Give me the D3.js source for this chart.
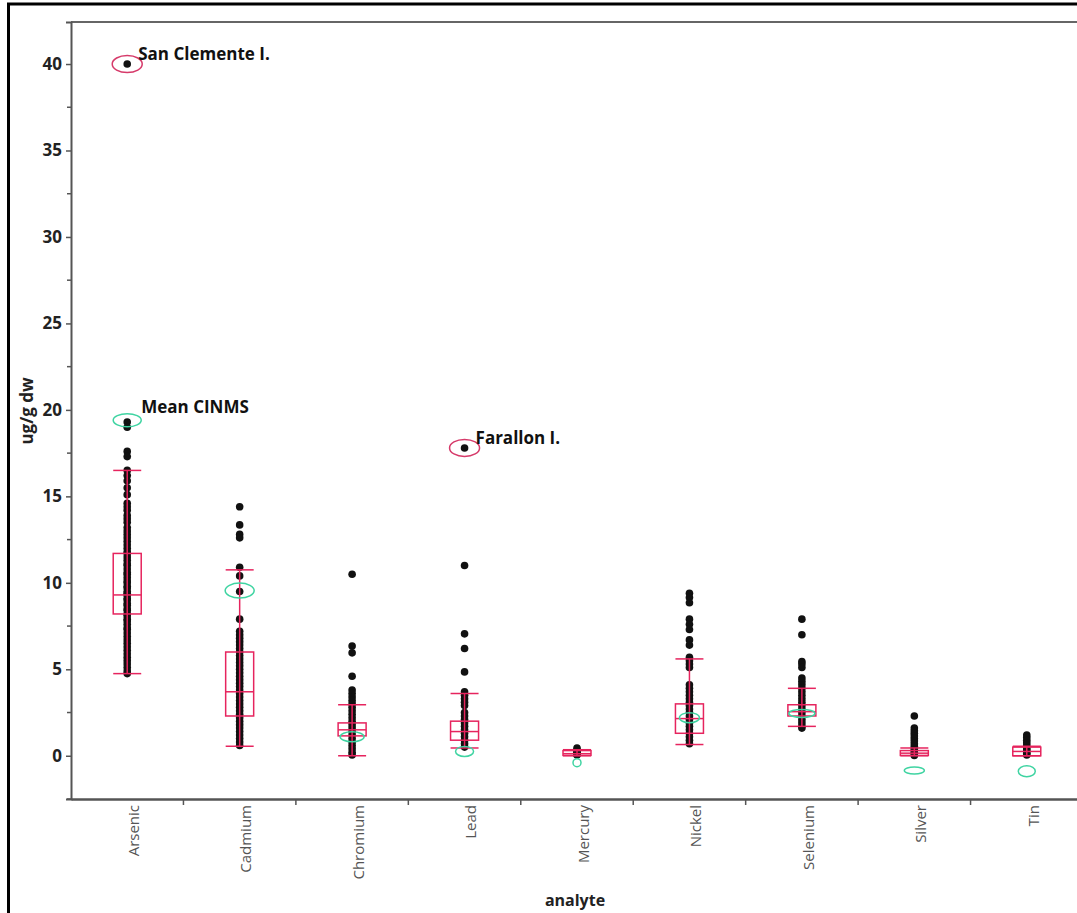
<!DOCTYPE html>
<html>
<head>
<meta charset="utf-8">
<script src="https://cdn.jsdelivr.net/npm/d3@7"></script>
<style>
  html, body { margin: 0; padding: 0; background: #fff; }
  svg { display: block; }
</style>
</head>
<body>
<svg id="chart" width="1077" height="913"></svg>
<script>
// ---------------- data ----------------
const categories = ["Arsenic", "Cadmium", "Chromium", "Lead", "Mercury", "Nickel", "Selenium", "Silver", "Tin"];

const whiskerLow  = [4.75, 0.55, 0.0, 0.45, 0.0, 0.65, 1.7, 0.0, 0.0];
const boxQ1       = [8.2, 2.3, 1.15, 0.9, 0.02, 1.3, 2.3, 0.02, 0.0];
const boxMedian   = [9.3, 3.7, 1.5, 1.4, 0.12, 2.15, 2.55, 0.15, 0.25];
const boxQ3       = [11.7, 6.0, 1.9, 2.0, 0.3, 3.0, 2.95, 0.3, 0.5];
const whiskerHigh = [16.5, 10.75, 2.95, 3.6, 0.35, 5.6, 3.9, 0.45, 0.55];
const meanCINMS   = [19.4, 9.55, 1.1, 0.25, -0.4, 2.2, 2.45, -0.85, -0.9];

const arsenicValues = [40.0, 19.3, 19.0, 17.6, 17.3, 16.5, 16.2, 15.9, 15.5, 15.1, 14.6, 14.4, 14.2, 13.9, 13.7, 13.5, 13.2, 13.0, 12.8, 12.6, 12.4, 12.2, 12.0, 11.8, 11.7, 11.5, 11.3, 11.1, 11.0, 10.8, 10.6, 10.5, 10.3, 10.1, 10.0, 9.8, 9.7, 9.5, 9.4, 9.3, 9.1, 9.0, 8.8, 8.7, 8.5, 8.4, 8.2, 8.1, 7.9, 7.8, 7.6, 7.4, 7.3, 7.1, 6.9, 6.7, 6.5, 6.3, 6.1, 5.9, 5.7, 5.5, 5.3, 5.1, 4.9, 4.75];
const cadmiumValues = [14.4, 13.35, 12.8, 12.6, 10.9, 10.4, 9.5, 7.9, 7.2, 7.0, 6.8, 6.6, 6.4, 6.2, 6.0, 5.8, 5.6, 5.4, 5.2, 5.0, 4.8, 4.6, 4.4, 4.2, 4.0, 3.8, 3.6, 3.4, 3.2, 3.0, 2.8, 2.6, 2.4, 2.2, 2.0, 1.8, 1.6, 1.4, 1.2, 1.0, 0.8, 0.6];
const chromiumValues = [10.5, 6.35, 5.95, 4.6, 3.8, 3.6, 3.4, 3.2, 3.0, 2.8, 2.6, 2.4, 2.2, 2.0, 1.8, 1.6, 1.4, 1.2, 1.0, 0.8, 0.6, 0.4, 0.2, 0.05];
const leadValues = [17.8, 11.0, 7.05, 6.2, 4.85, 3.7, 3.5, 3.3, 3.1, 2.9, 2.5, 2.3, 2.1, 1.9, 1.7, 1.5, 1.3, 1.1, 0.9, 0.7, 0.5];
const mercuryValues = [0.45, 0.35, 0.25, 0.18, 0.12, 0.08, 0.05];
const nickelValues = [9.4, 9.15, 8.85, 7.9, 7.6, 7.3, 6.7, 6.4, 5.7, 5.5, 5.3, 5.1, 4.1, 3.9, 3.7, 3.5, 3.3, 3.1, 2.9, 2.7, 2.5, 2.3, 2.1, 1.9, 1.7, 1.5, 1.3, 1.1, 0.9, 0.7];
const seleniumValues = [7.9, 7.0, 5.45, 5.3, 5.1, 4.5, 4.3, 4.1, 3.9, 3.7, 3.5, 3.3, 3.1, 2.9, 2.7, 2.5, 2.3, 2.1, 1.9, 1.7, 1.6];
const silverValues = [2.3, 1.6, 1.45, 1.3, 1.15, 1.0, 0.85, 0.7, 0.55, 0.4, 0.3, 0.2, 0.1, 0.02];
const tinValues = [1.2, 1.05, 0.9, 0.75, 0.6, 0.45, 0.35, 0.25, 0.15, 0.05];

const highlightNames = ["San Clemente I.", "Farallon I."];
const highlightAnalytes = ["Arsenic", "Lead"];
const highlightValues = [40.0, 17.8];
const meanLabel = "Mean CINMS";

const yTicks = [0, 5, 10, 15, 20, 25, 30, 35, 40];
const yTitle = "ug/g dw";
const xTitle = "analyte";

// ---------------- build ----------------
const valuesByAnalyte = [arsenicValues, cadmiumValues, chromiumValues, leadValues, mercuryValues,
  nickelValues, seleniumValues, silverValues, tinValues];
const table = categories.map((c, i) => ({
  name: c, lo: whiskerLow[i], q1: boxQ1[i], med: boxMedian[i], q3: boxQ3[i], hi: whiskerHigh[i],
  mean: meanCINMS[i], values: valuesByAnalyte[i]
}));

// styles (not data)
const ellipseSize = { Arsenic: [14, 6.5], Cadmium: [14.5, 7.5], Chromium: [12, 5], Lead: [9, 5],
  Mercury: [4, 4], Nickel: [10, 5], Selenium: [13, 4], Silver: [10, 3.5], Tin: [8.5, 5.5] };
const RED = "#e6245e";
const GREEN = "#3fd4a2";
const FONT = "'Open Sans', sans-serif";

const svg = d3.select("#chart");
const mLeft = 71, mRight = 1083, mTop = 22, mBottom = 799;

const x = d3.scaleBand().domain(categories).range([mLeft, mRight]).padding(0);
const y = d3.scaleLinear().domain([-2.5, 42.43]).range([mBottom, mTop]);

// outer border
svg.append("rect").attr("x", 8.5).attr("y", 4).attr("width", 1100).attr("height", 1000)
  .attr("fill", "none").attr("stroke", "#000").attr("stroke-width", 3);

// frame top
svg.append("line").attr("x1", mLeft).attr("x2", 1077).attr("y1", mTop).attr("y2", mTop)
  .attr("stroke", "#666").attr("stroke-width", 2);

// y axis
const yAxis = d3.axisLeft(y).tickValues(yTicks).tickSize(5).tickPadding(4).tickFormat(d3.format("d"));
const gy = svg.append("g").attr("transform", `translate(${mLeft},0)`).call(yAxis);
gy.select(".domain").attr("stroke", "#555").attr("stroke-width", 2);
gy.selectAll(".tick line").attr("stroke", "#555").attr("stroke-width", 1.5);
gy.selectAll(".tick text").attr("font-family", FONT).attr("font-weight", "bold")
  .attr("font-size", 17).attr("fill", "#222");
// minor ticks
const minorTicks = d3.range(-2.5, 42.5, 2.5).filter(v => v % 5 !== 0);
svg.append("g").selectAll("line").data(minorTicks).join("line")
  .attr("x1", mLeft - 4).attr("x2", mLeft).attr("y1", d => y(d)).attr("y2", d => y(d))
  .attr("stroke", "#555").attr("stroke-width", 1.5);

// x axis
const gx = svg.append("g").attr("transform", `translate(0,${mBottom})`)
  .call(d3.axisBottom(x).tickSize(0).tickPadding(0));
gx.select(".domain").attr("stroke", "#555").attr("stroke-width", 2.5);
gx.selectAll(".tick text")
  .attr("font-family", FONT).attr("font-size", 15).attr("fill", "#555")
  .attr("text-anchor", "end")
  .attr("x", -6).attr("y", 0).attr("dy", "0.45em").attr("dx", 0)
  .attr("transform", "translate(5,0) rotate(-90)");
// tick marks between categories
svg.append("g").selectAll("line").data(categories.slice(1)).join("line")
  .attr("x1", d => x(d)).attr("x2", d => x(d)).attr("y1", mBottom).attr("y2", mBottom + 6)
  .attr("stroke", "#555").attr("stroke-width", 1.5);

// axis titles
svg.append("text").attr("transform", `translate(33,411) rotate(-90)`).attr("text-anchor", "middle")
  .attr("font-family", FONT).attr("font-weight", "bold").attr("font-size", 17)
  .attr("fill", "#222").text(yTitle);
svg.append("text").attr("x", 575).attr("y", 906).attr("text-anchor", "middle")
  .attr("font-family", FONT).attr("font-weight", "bold").attr("font-size", 16)
  .attr("fill", "#222").text(xTitle);

const cx = d => x(d) + x.bandwidth() / 2;
const boxW = 28;

// points
const pts = table.flatMap(d => d.values.map(v => ({ name: d.name, v })));
svg.append("g").selectAll("circle").data(pts).join("circle")
  .attr("cx", d => cx(d.name)).attr("cy", d => y(d.v)).attr("r", 3.8).attr("fill", "#111");

// boxes
const g = svg.append("g").selectAll("g").data(table).join("g");
g.append("line").attr("x1", d => cx(d.name)).attr("x2", d => cx(d.name))
  .attr("y1", d => y(d.lo)).attr("y2", d => y(d.hi)).attr("stroke", RED).attr("stroke-width", 1.5);
g.append("line").attr("x1", d => cx(d.name) - boxW / 2).attr("x2", d => cx(d.name) + boxW / 2)
  .attr("y1", d => y(d.hi)).attr("y2", d => y(d.hi)).attr("stroke", RED).attr("stroke-width", 1.5);
g.append("line").attr("x1", d => cx(d.name) - boxW / 2).attr("x2", d => cx(d.name) + boxW / 2)
  .attr("y1", d => y(d.lo)).attr("y2", d => y(d.lo)).attr("stroke", RED).attr("stroke-width", 1.5);
g.append("rect").attr("x", d => cx(d.name) - boxW / 2).attr("width", boxW)
  .attr("y", d => y(d.q3)).attr("height", d => y(d.q1) - y(d.q3))
  .attr("fill", "none").attr("stroke", RED).attr("stroke-width", 1.5);
g.append("line").attr("x1", d => cx(d.name) - boxW / 2).attr("x2", d => cx(d.name) + boxW / 2)
  .attr("y1", d => y(d.med)).attr("y2", d => y(d.med)).attr("stroke", RED).attr("stroke-width", 1.5);

// mean CINMS ellipses
g.append("ellipse").attr("cx", d => cx(d.name)).attr("cy", d => y(d.mean))
  .attr("rx", d => ellipseSize[d.name][0]).attr("ry", d => ellipseSize[d.name][1])
  .attr("fill", "none").attr("stroke", GREEN).attr("stroke-width", 1.5);

// mean label
svg.append("text").attr("x", cx("Arsenic") + 14).attr("y", y(meanCINMS[0]) - 7)
  .attr("font-family", FONT).attr("font-weight", "bold").attr("font-size", 17)
  .attr("fill", "#111").text(meanLabel);

// highlighted points
const hl = highlightNames.map((n, i) => ({ n, a: highlightAnalytes[i], v: highlightValues[i] }));
svg.append("g").selectAll("ellipse").data(hl).join("ellipse")
  .attr("cx", d => cx(d.a)).attr("cy", d => y(d.v)).attr("rx", 15).attr("ry", 8.5)
  .attr("fill", "none").attr("stroke", "#d63a6a").attr("stroke-width", 1.5);
svg.append("g").selectAll("text").data(hl).join("text")
  .attr("x", d => cx(d.a) + 11).attr("y", d => y(d.v) - 4)
  .attr("font-family", FONT).attr("font-weight", "bold").attr("font-size", 17)
  .attr("fill", "#111").text(d => d.n);
</script>
</body>
</html>
